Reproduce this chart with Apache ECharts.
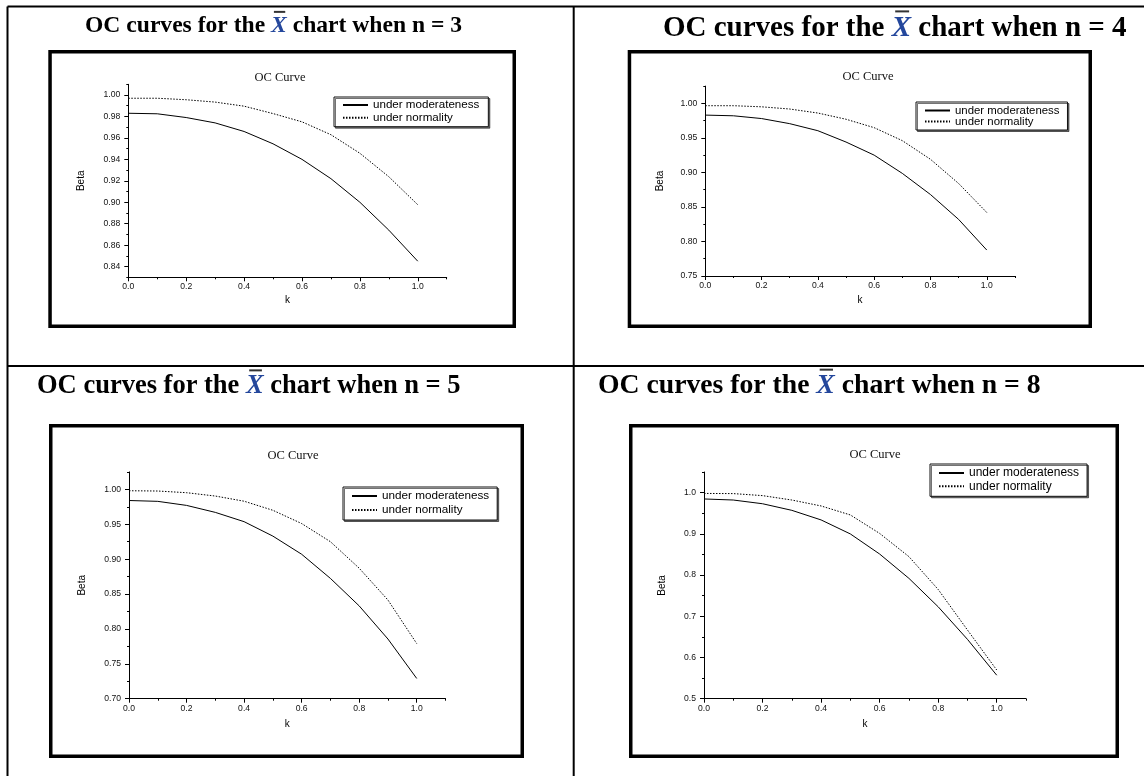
<!DOCTYPE html>
<html>
<head>
<meta charset="utf-8">
<title>OC curves for the X-bar chart</title>
<script src="https://cdn.jsdelivr.net/npm/echarts@6/dist/echarts.min.js"></script>
<style>
  html, body { margin: 0; padding: 0; background: #fff; }
  #chart { width: 1144px; height: 776px; }
</style>
</head>
<body>
<div id="chart"></div>
<script>
// Shift size k (in sigma units) along the x axis
const kValues = [0.0, 0.1, 0.2, 0.3, 0.4, 0.5, 0.6, 0.7, 0.8, 0.9, 1.0];

// Sample sizes, one panel each
const sampleSizes = [3, 4, 5, 8];

// Type II error (Beta) under moderateness and under normality
const betaModerateN3 = [0.983, 0.9825, 0.979, 0.974, 0.966, 0.9545, 0.940, 0.922, 0.900, 0.874, 0.845];
const betaNormalN3   = [0.997, 0.997, 0.9956, 0.9934, 0.9896, 0.9827, 0.975, 0.963, 0.9457, 0.9238, 0.8977];
const betaModerateN4 = [0.983, 0.982, 0.978, 0.9706, 0.9604, 0.944, 0.925, 0.8986, 0.868, 0.832, 0.7876];
const betaNormalN4   = [0.9966, 0.9966, 0.995, 0.9918, 0.986, 0.977, 0.9648, 0.946, 0.919, 0.884, 0.842];
const betaModerateN5 = [0.984, 0.9828, 0.977, 0.967, 0.9537, 0.933, 0.907, 0.8724, 0.833, 0.7855, 0.729];
const betaNormalN5   = [0.998, 0.9976, 0.9952, 0.9904, 0.983, 0.970, 0.951, 0.925, 0.887, 0.8414, 0.779];
const betaModerateN8 = [0.9846, 0.982, 0.973, 0.957, 0.9337, 0.8997, 0.851, 0.792, 0.723, 0.644, 0.557];
const betaNormalN8   = [0.998, 0.9976, 0.9927, 0.982, 0.9676, 0.9458, 0.901, 0.8447, 0.765, 0.6667, 0.5696];

// Axis ticks: labelled (major) and unlabelled (minor)
const kMajorTicks = [0.0, 0.2, 0.4, 0.6, 0.8, 1.0];
const kMinorTicks = [0.1, 0.3, 0.5, 0.7, 0.9, 1.1];
const betaMajorN3 = [0.84, 0.86, 0.88, 0.90, 0.92, 0.94, 0.96, 0.98, 1.00];
const betaMinorN3 = [0.83, 0.85, 0.87, 0.89, 0.91, 0.93, 0.95, 0.97, 0.99, 1.01];
const betaMajorN4 = [0.75, 0.80, 0.85, 0.90, 0.95, 1.00];
const betaMinorN4 = [0.775, 0.825, 0.875, 0.925, 0.975, 1.025];
const betaMajorN5 = [0.70, 0.75, 0.80, 0.85, 0.90, 0.95, 1.00];
const betaMinorN5 = [0.725, 0.775, 0.825, 0.875, 0.925, 0.975, 1.025];
const betaMajorN8 = [0.5, 0.6, 0.7, 0.8, 0.9, 1.0];
const betaMinorN8 = [0.55, 0.65, 0.75, 0.85, 0.95, 1.05];

const seriesNames = ['under moderateness', 'under normality'];

const panels = [
  { moderate: betaModerateN3, normal: betaNormalN3, major: betaMajorN3, minor: betaMinorN3,
    yMin: 0.83, yMax: 1.01, digits: 2,
    grid: { left: 128.3, top: 84.3, width: 318.4, height: 193 },
    frame: [48.3, 50, 516, 328],
    heading: { x: 85, y: 25.8, size: 23.6 },
    caption: { x: 280, y: 78 },
    betaGap: 42.5, kGap: 18,
    legend: { left: 334, top: 97, fontSize: 11.6, lineHeight: 11, gap: 0.7, padding: [2, 9, 3, 8] } },
  { moderate: betaModerateN4, normal: betaNormalN4, major: betaMajorN4, minor: betaMinorN4,
    yMin: 0.75, yMax: 1.025, digits: 2,
    grid: { left: 705.3, top: 86.1, width: 309.6, height: 189.9 },
    frame: [627.7, 50, 1092, 328],
    heading: { x: 663, y: 28.5, size: 29 },
    caption: { x: 868, y: 77 },
    betaGap: 40, kGap: 19,
    legend: { left: 916, top: 102, fontSize: 11.4, lineHeight: 11, gap: 0, padding: [3, 8, 3, 8] } },
  { moderate: betaModerateN5, normal: betaNormalN5, major: betaMajorN5, minor: betaMinorN5,
    yMin: 0.70, yMax: 1.025, digits: 2,
    grid: { left: 129, top: 471.9, width: 316.5, height: 226.8 },
    frame: [49, 424, 524, 758],
    heading: { x: 37, y: 386, size: 26.5 },
    caption: { x: 293, y: 456 },
    betaGap: 42, kGap: 21,
    legend: { left: 343, top: 487, fontSize: 11.7, lineHeight: 12, gap: 2, padding: [3, 8, 4, 8] } },
  { moderate: betaModerateN8, normal: betaNormalN8, major: betaMajorN8, minor: betaMinorN8,
    yMin: 0.5, yMax: 1.05, digits: 1,
    grid: { left: 704, top: 472, width: 322, height: 226.7 },
    frame: [629, 424, 1119, 758],
    heading: { x: 598, y: 386, size: 27.7 },
    caption: { x: 875, y: 455 },
    betaGap: 37, kGap: 21,
    legend: { left: 930, top: 464, fontSize: 12, lineHeight: 12, gap: 1.3, padding: [3, 8, 4, 8] } }
];

const SANS = '"Liberation Sans", Arial, sans-serif';
const SERIF = '"Liberation Serif", "Times New Roman", serif';

const measureCtx = document.createElement('canvas').getContext('2d');
function textWidth(text, font) {
  measureCtx.font = font;
  return measureCtx.measureText(text).width;
}

const grids = [], xAxes = [], yAxes = [], series = [], legends = [], graphics = [];

// Table rules around the four cells
const rule = { stroke: '#000', lineWidth: 2 };
graphics.push(
  { type: 'line', shape: { x1: 7.5, y1: 6.5, x2: 1144, y2: 6.5 }, style: rule },
  { type: 'line', shape: { x1: 7.5, y1: 6.5, x2: 7.5, y2: 776 }, style: rule },
  { type: 'line', shape: { x1: 573.7, y1: 6.5, x2: 573.7, y2: 776 }, style: rule },
  { type: 'line', shape: { x1: 7.5, y1: 366, x2: 1144, y2: 366 }, style: rule }
);

panels.forEach((p, i) => {
  const n = sampleSizes[i];
  grids.push(Object.assign({ outerBoundsMode: 'none', containLabel: false }, p.grid));

  const tickLabel = { fontFamily: SANS, fontSize: 8.6, color: '#111' };

  // labelled k axis
  xAxes.push({
    type: 'value', gridIndex: i, min: 0, max: 1.1, position: 'bottom',
    name: 'k', nameLocation: 'middle', nameGap: p.kGap,
    nameTextStyle: { fontFamily: SANS, fontSize: 10, color: '#000' },
    axisLine: { show: true, onZero: false, lineStyle: { color: '#000', width: 1 } },
    axisTick: { show: true, length: 4, customValues: kMajorTicks, lineStyle: { color: '#000' } },
    axisLabel: { show: true, customValues: kMajorTicks, margin: 5, formatter: v => v.toFixed(1), ...tickLabel },
    splitLine: { show: false }
  });
  // minor k ticks
  xAxes.push({
    type: 'value', gridIndex: i, min: 0, max: 1.1, position: 'bottom',
    axisLine: { show: false, onZero: false },
    axisTick: { show: true, length: 2, customValues: kMinorTicks, lineStyle: { color: '#000' } },
    axisLabel: { show: false }, splitLine: { show: false }
  });
  // labelled Beta axis
  yAxes.push({
    type: 'value', gridIndex: i, min: p.yMin, max: p.yMax, position: 'left',
    name: 'Beta', nameLocation: 'middle', nameGap: p.betaGap, nameRotate: 90,
    nameTextStyle: { fontFamily: SANS, fontSize: 10, color: '#000' },
    axisLine: { show: true, onZero: false, lineStyle: { color: '#000', width: 1 } },
    axisTick: { show: true, length: 4, customValues: p.major, lineStyle: { color: '#000' } },
    axisLabel: { show: true, customValues: p.major, margin: 8, formatter: v => v.toFixed(p.digits), ...tickLabel },
    splitLine: { show: false }
  });
  // minor Beta ticks
  yAxes.push({
    type: 'value', gridIndex: i, min: p.yMin, max: p.yMax, position: 'left',
    axisLine: { show: false, onZero: false },
    axisTick: { show: true, length: 2, customValues: p.minor, lineStyle: { color: '#000' } },
    axisLabel: { show: false }, splitLine: { show: false }
  });

  const pairs = arr => kValues.map((k, j) => [k, arr[j]]);
  series.push({
    name: seriesNames[0], type: 'line', xAxisIndex: 2 * i, yAxisIndex: 2 * i,
    data: pairs(p.moderate), symbol: 'none', smooth: false, silent: true,
    lineStyle: { color: '#000', width: 1, type: 'solid' }, itemStyle: { color: '#000' }
  });
  series.push({
    name: seriesNames[1], type: 'line', xAxisIndex: 2 * i, yAxisIndex: 2 * i,
    data: pairs(p.normal), symbol: 'none', smooth: false, silent: true,
    lineStyle: { color: '#000', width: 1, type: [1.5, 1.5] }, itemStyle: { color: '#000' }
  });

  legends.push({
    orient: 'vertical', left: p.legend.left, top: p.legend.top,
    data: seriesNames, selectedMode: false,
    itemWidth: 25, itemHeight: 10, itemGap: p.legend.gap,
    padding: p.legend.padding,
    // plain line samples, no marker dot
    itemStyle: { opacity: 0 },
    backgroundColor: '#fff', borderColor: '#111', borderWidth: 1,
    shadowColor: 'rgba(0,0,0,0.55)', shadowOffsetX: 1.5, shadowOffsetY: 1.5, shadowBlur: 0,
    textStyle: { fontFamily: SANS, fontSize: p.legend.fontSize, lineHeight: p.legend.lineHeight, color: '#000', padding: [0, 0, 0, 0] }
  });

  // thick frame round each plot
  const [fx1, fy1, fx2, fy2] = p.frame;
  const lw = 3.5;
  graphics.push({
    type: 'rect', silent: true,
    shape: { x: fx1 + lw / 2, y: fy1 + lw / 2, width: fx2 - fx1 - lw, height: fy2 - fy1 - lw },
    style: { fill: null, stroke: '#000', lineWidth: lw }
  });

  // small serif caption above the plot
  graphics.push({
    type: 'text', silent: true,
    style: { text: 'OC Curve', x: p.caption.x, y: p.caption.y,
      font: `12.5px ${SERIF}`, fill: '#111',
      textAlign: 'center', textVerticalAlign: 'middle', align: 'center', verticalAlign: 'middle' }
  });

  // cell heading with an overlined italic X
  const h = p.heading;
  const fontPlain = `bold ${h.size}px ${SERIF}`;
  const fontX = `italic bold ${h.size}px ${SERIF}`;
  const before = 'OC curves for the ';
  const after = ` chart when n = ${n}`;
  const wBefore = textWidth(before, fontPlain);
  const wX = textWidth('X', fontX);
  const common = { textVerticalAlign: 'middle', verticalAlign: 'middle', textAlign: 'left', align: 'left' };
  graphics.push({ type: 'text', silent: true,
    style: Object.assign({ text: before, x: h.x, y: h.y, font: fontPlain, fill: '#000' }, common) });
  graphics.push({ type: 'text', silent: true,
    style: Object.assign({ text: 'X', x: h.x + wBefore, y: h.y, font: fontX, fill: '#24479c' }, common) });
  graphics.push({ type: 'text', silent: true,
    style: Object.assign({ text: after, x: h.x + wBefore + wX, y: h.y, font: fontPlain, fill: '#000' }, common) });
  const capHalf = h.size * 0.33;
  const barY = h.y - capHalf - h.size * 0.26;
  graphics.push({ type: 'line', silent: true,
    shape: { x1: h.x + wBefore + wX * 0.18, y1: barY, x2: h.x + wBefore + wX * 0.9, y2: barY },
    style: { stroke: '#333', lineWidth: 2 } });
});

const chart = echarts.init(document.getElementById('chart'), null, { renderer: 'canvas' });
chart.setOption({
  backgroundColor: '#fff',
  animation: false,
  grid: grids,
  xAxis: xAxes,
  yAxis: yAxes,
  legend: legends,
  series: series,
  graphic: { elements: graphics }
});
</script>
</body>
</html>
